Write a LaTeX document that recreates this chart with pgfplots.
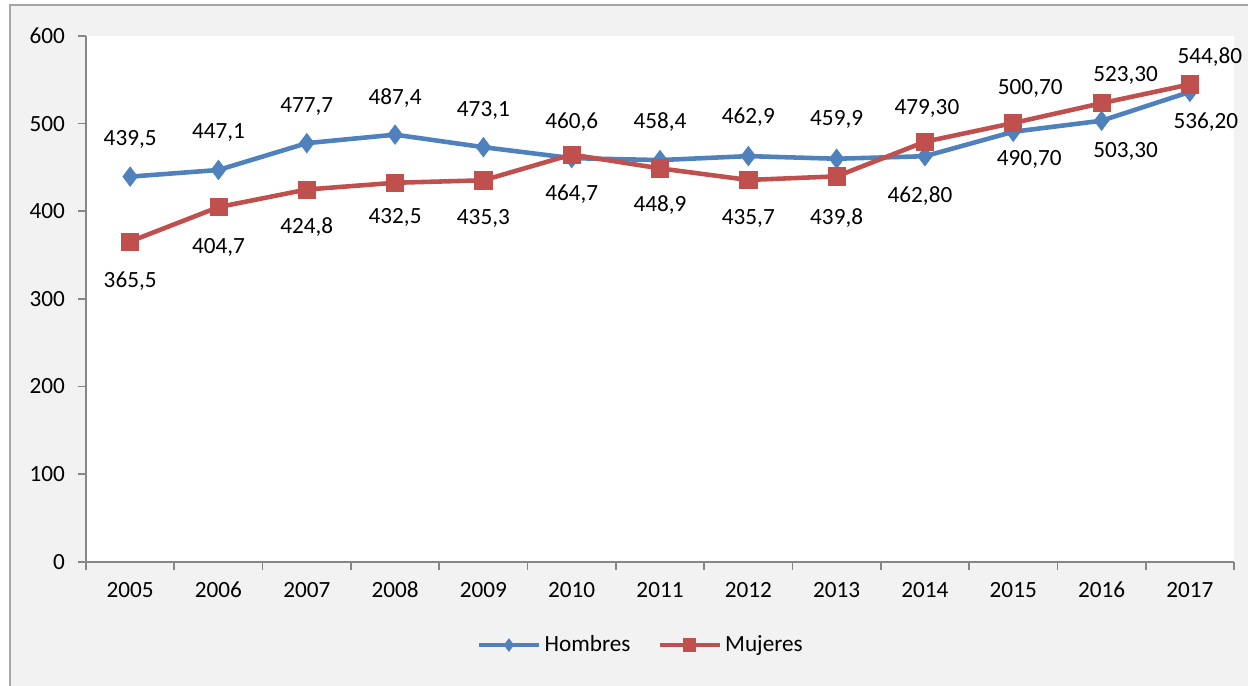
\documentclass[border=0pt]{standalone}
\usepackage{pgfplots}
\pgfplotsset{compat=1.18}
\usepackage{fontspec}
\setmainfont{Carlito}

\definecolor{hblue}{HTML}{4F81BD}
\definecolor{mred}{HTML}{C0504D}
\definecolor{axgray}{HTML}{868686}
\definecolor{bggray}{HTML}{F2F2F2}
\definecolor{framegray}{HTML}{A6A6A6}

% x  y  label  dx dy   (dx, dy in px of the reference)
\pgfplotstableread{
x y lab dx dy
0 439.5 439,5 0 37
1 447.1 447,1 0 37
2 477.7 477,7 0 37
3 487.4 487,4 0 37
4 473.1 473,1 0 37
5 460.6 460,6 0 36
6 458.4 458,4 0 38
7 462.9 462,9 0 39
8 459.9 459,9 0 39
9 462.8 462,80 -5 -40
10 490.7 490,70 16 -28
11 503.3 503,30 24 -31
12 536.2 536,20 16 -30
}\hombres

\pgfplotstableread{
x y lab dx dy
0 365.5 365,5 0 -40
1 404.7 404,7 0 -40
2 424.8 424,8 0 -38
3 432.5 432,5 0 -35
4 435.3 435,3 0 -38
5 464.7 464,7 0 -40
6 448.9 448,9 0 -37
7 435.7 435,7 0 -39
8 439.8 439,8 0 -42
9 479.3 479,30 2 33
10 500.7 500,70 17 35
11 523.3 523,30 24 28
12 544.8 544,80 20 27
}\mujeres

\begin{document}
\fontsize{12.7}{15}\selectfont
\begin{tikzpicture}
% chart area
\fill[white] (-1.654,-2.390) rectangle (22.346,10.802);
\fill[bggray] (-1.4615,-2.390) rectangle (22.346,10.706);
\draw[framegray, line width=0.9pt] (-1.4615,-2.390) -- (-1.4615,10.706) -- (22.346,10.706);

\begin{axis}[
    at={(0,0)}, anchor=south west,
    scale only axis,
    width=22.077cm, height=10.110cm,
    xmin=-0.5, xmax=12.5,
    ymin=0, ymax=600,
    clip=false,
    axis background/.style={fill=white},
    axis lines=left,
    axis line style={-, draw=axgray, line width=0.9pt},
    tick align=outside,
    tick style={draw=axgray, line width=0.9pt},
    major tick length=0.154cm,
    minor tick length=0.154cm,
    xtick={0,1,...,12},
    xticklabels={2005,2006,2007,2008,2009,2010,2011,2012,2013,2014,2015,2016,2017},
    major x tick style={draw=none},
    minor xtick={-0.5,0.5,...,12.5},
    ytick={0,100,...,600},
    /pgf/number format/assume math mode=true,
    yticklabel style={anchor=east, xshift=-0.096cm},
    xticklabel style={anchor=base, inner sep=0pt, yshift=-0.529cm},
    legend style={at={(0.484,-0.1585)}, anchor=center, draw=none, fill=none,
        legend columns=2,
        /tikz/every even column/.append style={column sep=0.45cm}},
    legend image code/.code={\draw[mark repeat=2,mark phase=2,#1]
        plot coordinates {(0cm,0cm) (0.577cm,0cm) (1.154cm,0cm)};},
    legend image post style={mark size=3.4pt, line width=2.2pt},
    visualization depends on={\thisrow{dx} \as \dx},
    visualization depends on={\thisrow{dy} \as \dy},
    point meta=explicit symbolic,
    nodes near coords={\pgfplotspointmeta},
    nodes near coords style={anchor=center, inner sep=0pt, text=black,
        xshift=\dx*0.019231cm, yshift=\dy*0.019231cm},
]
\addplot[hblue, line width=2.5pt, mark=diamond*, mark size=5.3pt,
    mark options={solid, line width=0.4pt, fill=hblue}]
    table[x=x, y=y, meta=lab] {\hombres};
\addlegendentry{Hombres}
\addplot[mred, line width=2.5pt, mark=square*, mark size=4.7pt,
    mark options={solid, line width=0.4pt, fill=mred}]
    table[x=x, y=y, meta=lab] {\mujeres};
\addlegendentry{Mujeres}
\end{axis}
\pgfresetboundingbox
\path[use as bounding box] (-1.654,-2.390) rectangle (22.346,10.802);
\end{tikzpicture}
\end{document}
